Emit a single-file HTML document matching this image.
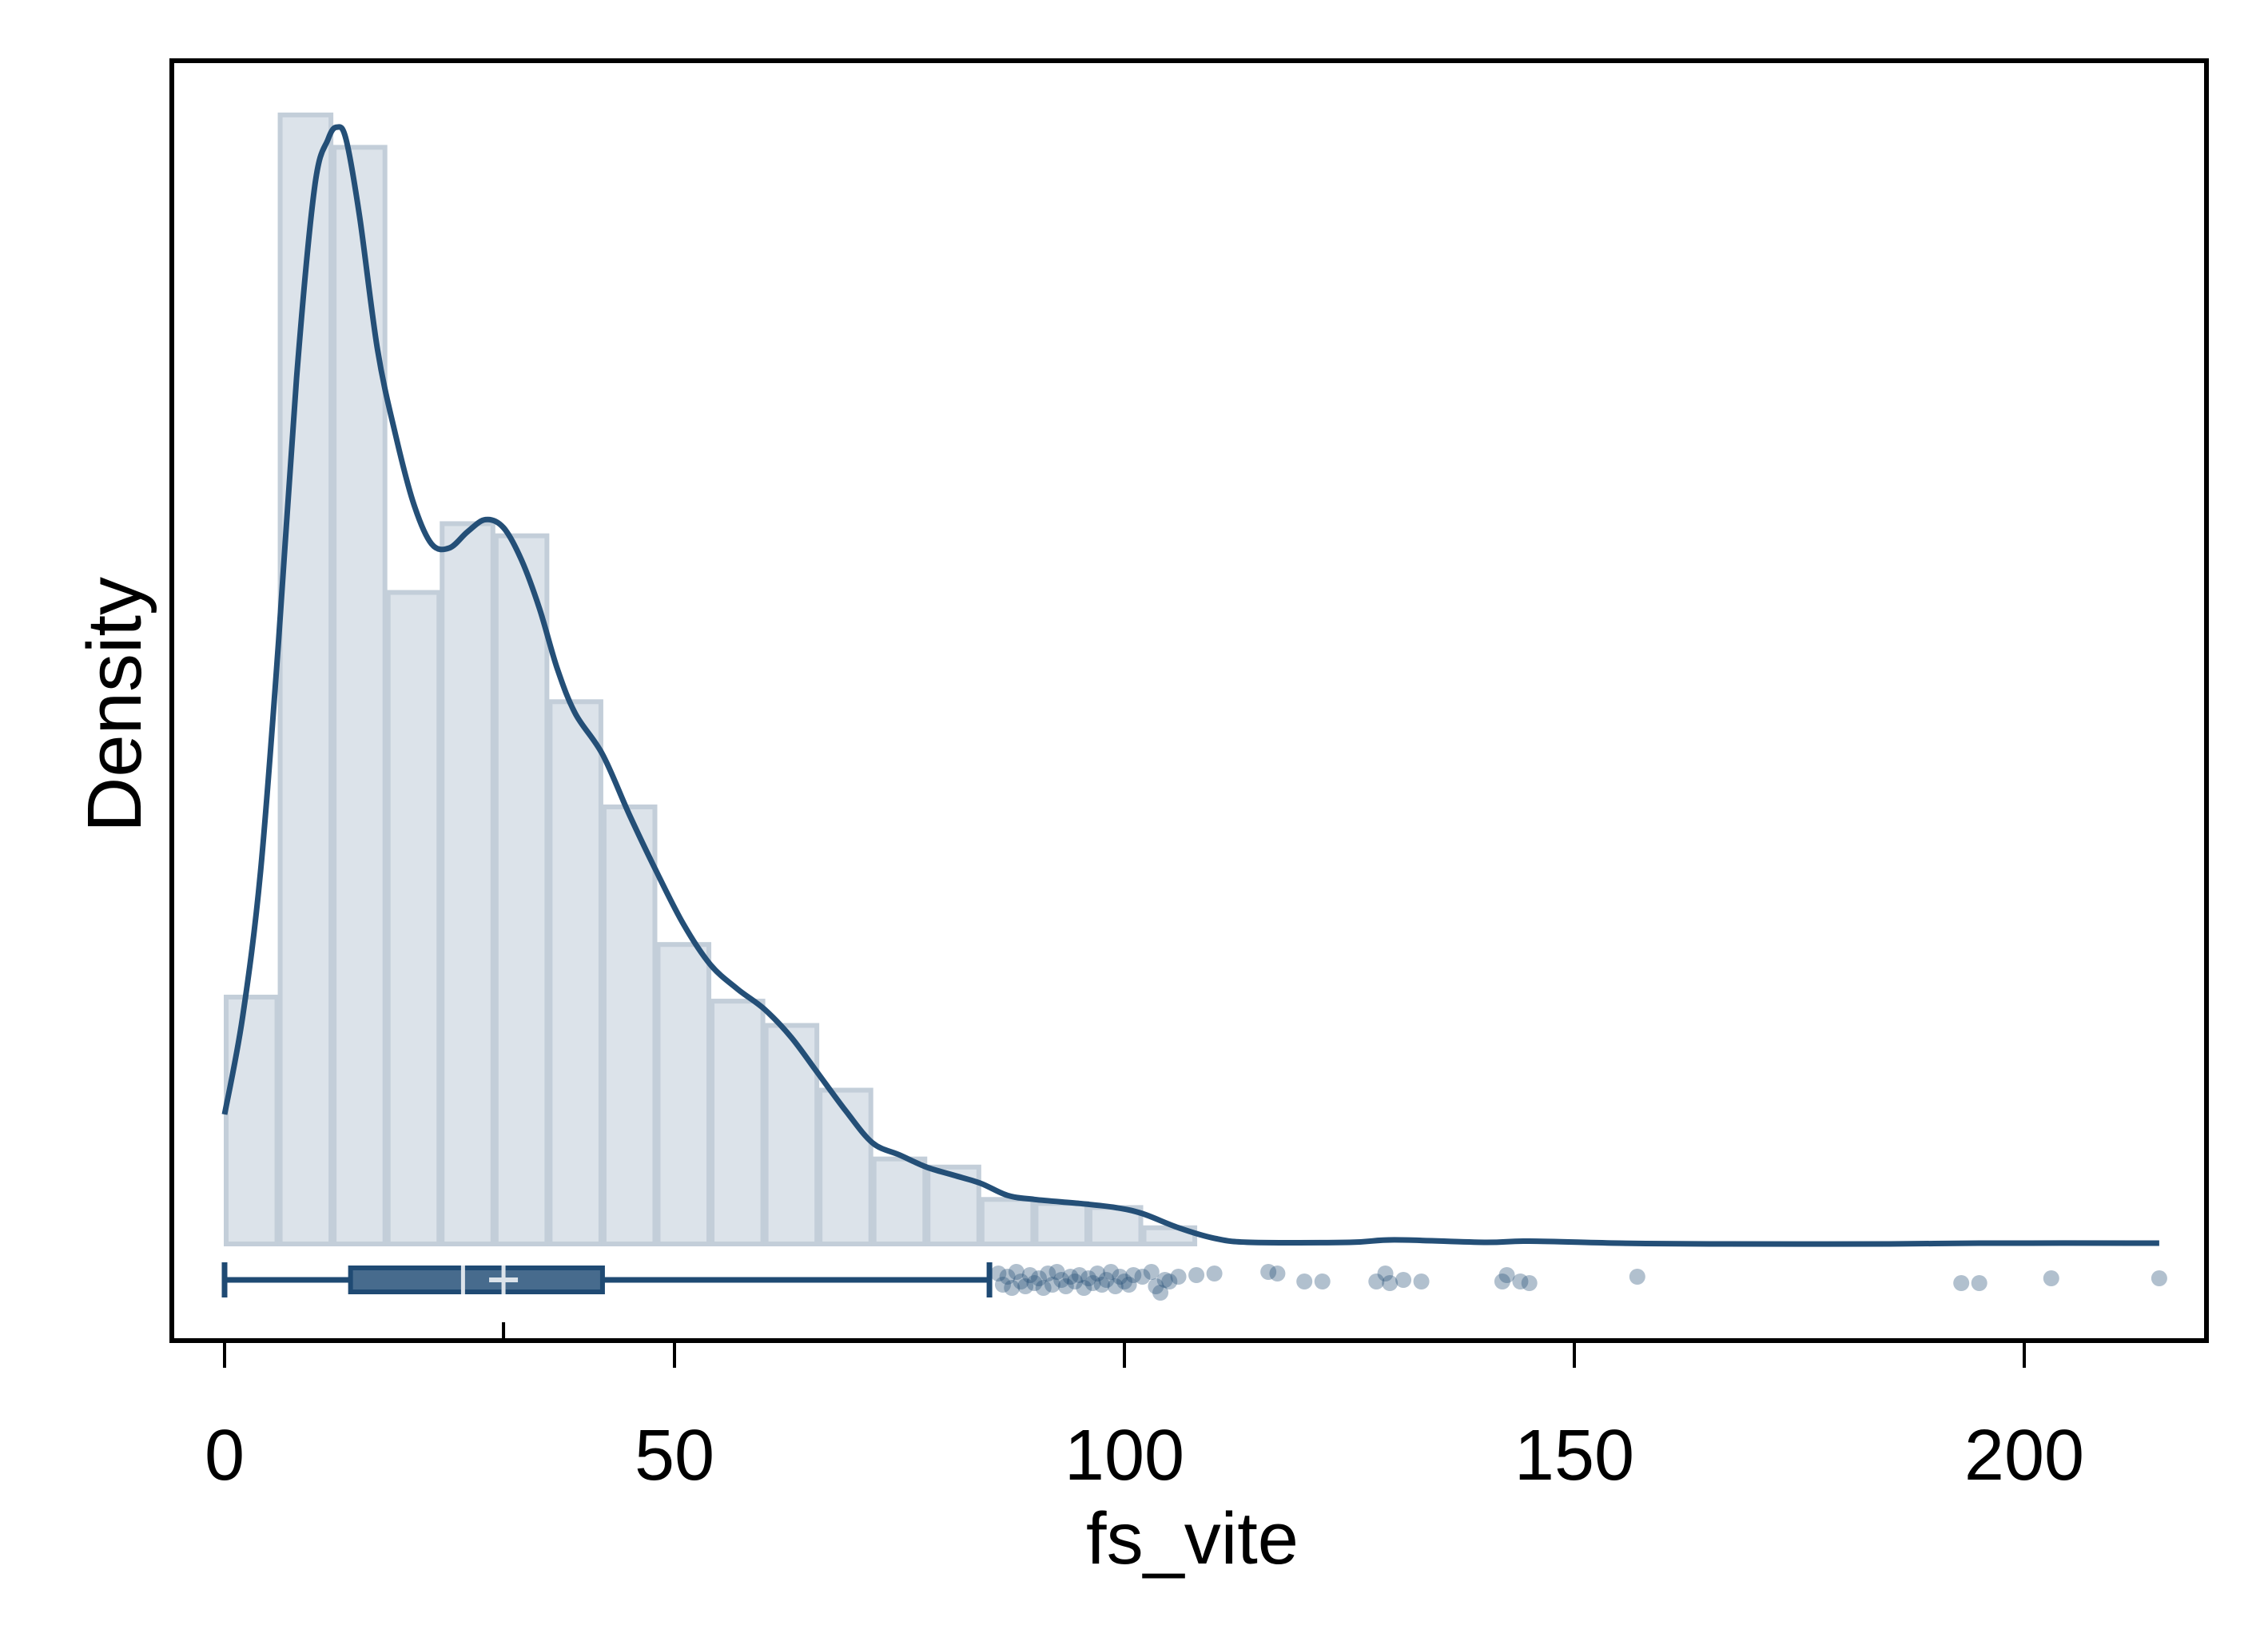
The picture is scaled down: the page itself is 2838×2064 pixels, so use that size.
<!DOCTYPE html>
<html><head><meta charset="utf-8">
<style>
html,body{margin:0;padding:0;background:#fff;}
svg{display:block;}
text{font-family:"Liberation Sans",sans-serif;fill:#000;}
</style></head>
<body>
<svg id="chart" width="2838" height="2064" viewBox="0 0 2838 2064" xmlns="http://www.w3.org/2000/svg">
<g id="bars"></g>
<g id="kde"></g>
<g id="box"></g>
<g id="pts"></g>
<rect x="215" y="76" width="2546" height="1602" fill="none" stroke="#000" stroke-width="6"/>
<g id="axis"></g>
<text x="1492" y="1957" font-size="92" text-anchor="middle">fs_vite</text>
<text transform="translate(176,882) rotate(-90)" font-size="96" text-anchor="middle">Density</text>
</svg>
<script>
const binStart = 0;
const binWidth = 6;
const binDensity = [0.0061,0.0279,0.0271,0.0161,0.0178,0.0175,0.0134,0.0108,0.0074,0.0060,0.0054,0.0038,0.0021,0.0019,0.0011,0.0010,0.0009,0.0004];
const kdeX = [0,2,4,6,8,10,11.5,12.5,13.5,15,17,19,21,23,25,27,29,31,33,35,37,39,42,45,48,51,54,57,60,63,66,69,72,75,78,81,84,87,90,95,99,102,106,110,114,125,130,140,145,155,165,185,195,215];
const kdeY = [0.0032,0.0056,0.0092,0.0149,0.0214,0.0261,0.0273,0.0276,0.0273,0.0254,0.0221,0.0200,0.0183,0.0173,0.0172,0.0176,0.0179,0.0177,0.0169,0.0157,0.0142,0.0131,0.0121,0.0106,0.0092,0.0079,0.0069,0.0063,0.0058,0.0051,0.0042,0.0033,0.0025,0.0022,0.0019,0.0017,0.0015,0.0012,0.0011,0.0010,0.0009,0.00075,0.0004,0.00014,0.00004,0.00004,0.0001,0.00004,0.00007,0.00002,0,0,0.00002,0.00002];
const boxStats = [0, 14, 26.5, 42, 85];
const meanValue = 31;
const outliers = [86,86.5,87,87.5,88,88.5,89,89.5,90,90.5,91,91.5,92,92.5,93,93.5,94,94.5,95,95.5,96,96.5,97,97.5,98,98.5,99,99.5,100,100.5,101,102,103,103.5,104,104.5,105,106,108,110,116,117,120,122,128,129,129.5,131,133,142,142.5,144,145,157,193,195,203,215];
const jitter = [-8,6,-4,10,-10,2,8,-6,4,-2,10,-8,6,-10,0,8,-4,2,-6,10,-2,4,-8,6,0,-10,8,-4,2,6,-6,-4,-10,8,16,0,2,-4,-6,-8,-10,-8,2,2,2,-8,4,0,2,2,-6,2,4,-4,4,4,-2,-2];
const tickValues = [0,50,100,150,200];

const NS='http://www.w3.org/2000/svg';
function X(v){return 281 + v*(563/50);}
function Y(d){return 1557 - d*50650;}
function mk(tag,attrs,parent){const e=document.createElementNS(NS,tag);for(const k in attrs)e.setAttribute(k,attrs[k]);parent.appendChild(e);return e;}

const bars=document.getElementById('bars');
binDensity.forEach((d,i)=>{
  const x0=X(binStart+i*binWidth), x1=X(binStart+(i+1)*binWidth);
  const r=mk('rect',{x:x0+2,y:Y(d),width:x1-x0-4,height:1557-Y(d),fill:'#dce3ea',stroke:'#c3ced9','stroke-width':6},bars);
  
  
});

const kde=document.getElementById('kde');
const P=kdeX.map((x,i)=>[X(x),Y(kdeY[i])]);
let p='M'+P[0][0].toFixed(1)+','+P[0][1].toFixed(1);
for(let i=0;i<P.length-1;i++){
  const p0=P[Math.max(i-1,0)],p1=P[i],p2=P[i+1],p3=P[Math.min(i+2,P.length-1)];
  const c1=[p1[0]+(p2[0]-p0[0])/6,p1[1]+(p2[1]-p0[1])/6];
  const c2=[p2[0]-(p3[0]-p1[0])/6,p2[1]-(p3[1]-p1[1])/6];
  p+='C'+c1[0].toFixed(1)+','+c1[1].toFixed(1)+' '+c2[0].toFixed(1)+','+c2[1].toFixed(1)+' '+p2[0].toFixed(1)+','+p2[1].toFixed(1);
}
const kp=mk('path',{d:p,fill:'none',stroke:'#244f77','stroke-width':7,'stroke-linejoin':'round'},kde);



const box=document.getElementById('box');
const by=1602;
const wl=mk('line',{x1:X(boxStats[0]),y1:by,x2:X(boxStats[4]),y2:by,stroke:'#1f4a73','stroke-width':7},box);


[boxStats[0],boxStats[4]].forEach(v=>{
  const c=mk('line',{x1:X(v),y1:by-22,x2:X(v),y2:by+22,stroke:'#1f4a73','stroke-width':7},box);
  
  
});
const br=mk('rect',{x:X(boxStats[1]),y:by-15,width:X(boxStats[3])-X(boxStats[1]),height:30,fill:'#476b8d',stroke:'#1f4a73','stroke-width':6},box);


const md=mk('line',{x1:X(boxStats[2]),y1:by-18,x2:X(boxStats[2]),y2:by+18,stroke:'#dce3ea','stroke-width':5},box);


const mh=mk('line',{x1:X(meanValue)-18,y1:by,x2:X(meanValue)+18,y2:by,stroke:'#dce3ea','stroke-width':6},box);


const mv=mk('line',{x1:X(meanValue),y1:by-18,x2:X(meanValue),y2:by+18,stroke:'#dce3ea','stroke-width':5},box);


const mt=mk('line',{x1:X(meanValue),y1:1655,x2:X(meanValue),y2:1678,stroke:'#000','stroke-width':4},box);



const pts=document.getElementById('pts');
outliers.forEach((v,i)=>{
  const c=mk('circle',{cx:X(v),cy:by+jitter[i],r:10,fill:'#1f4a73','fill-opacity':0.35},pts);
  
  
});

const axis=document.getElementById('axis');
tickValues.forEach(v=>{
  const t=mk('line',{x1:X(v),y1:1680,x2:X(v),y2:1712,stroke:'#000','stroke-width':4},axis);
  
  
  const l=mk('text',{x:X(v),y:1852,'font-size':90,'text-anchor':'middle'},axis);
  l.textContent=v;
  
  
});
</script>
</body></html>
